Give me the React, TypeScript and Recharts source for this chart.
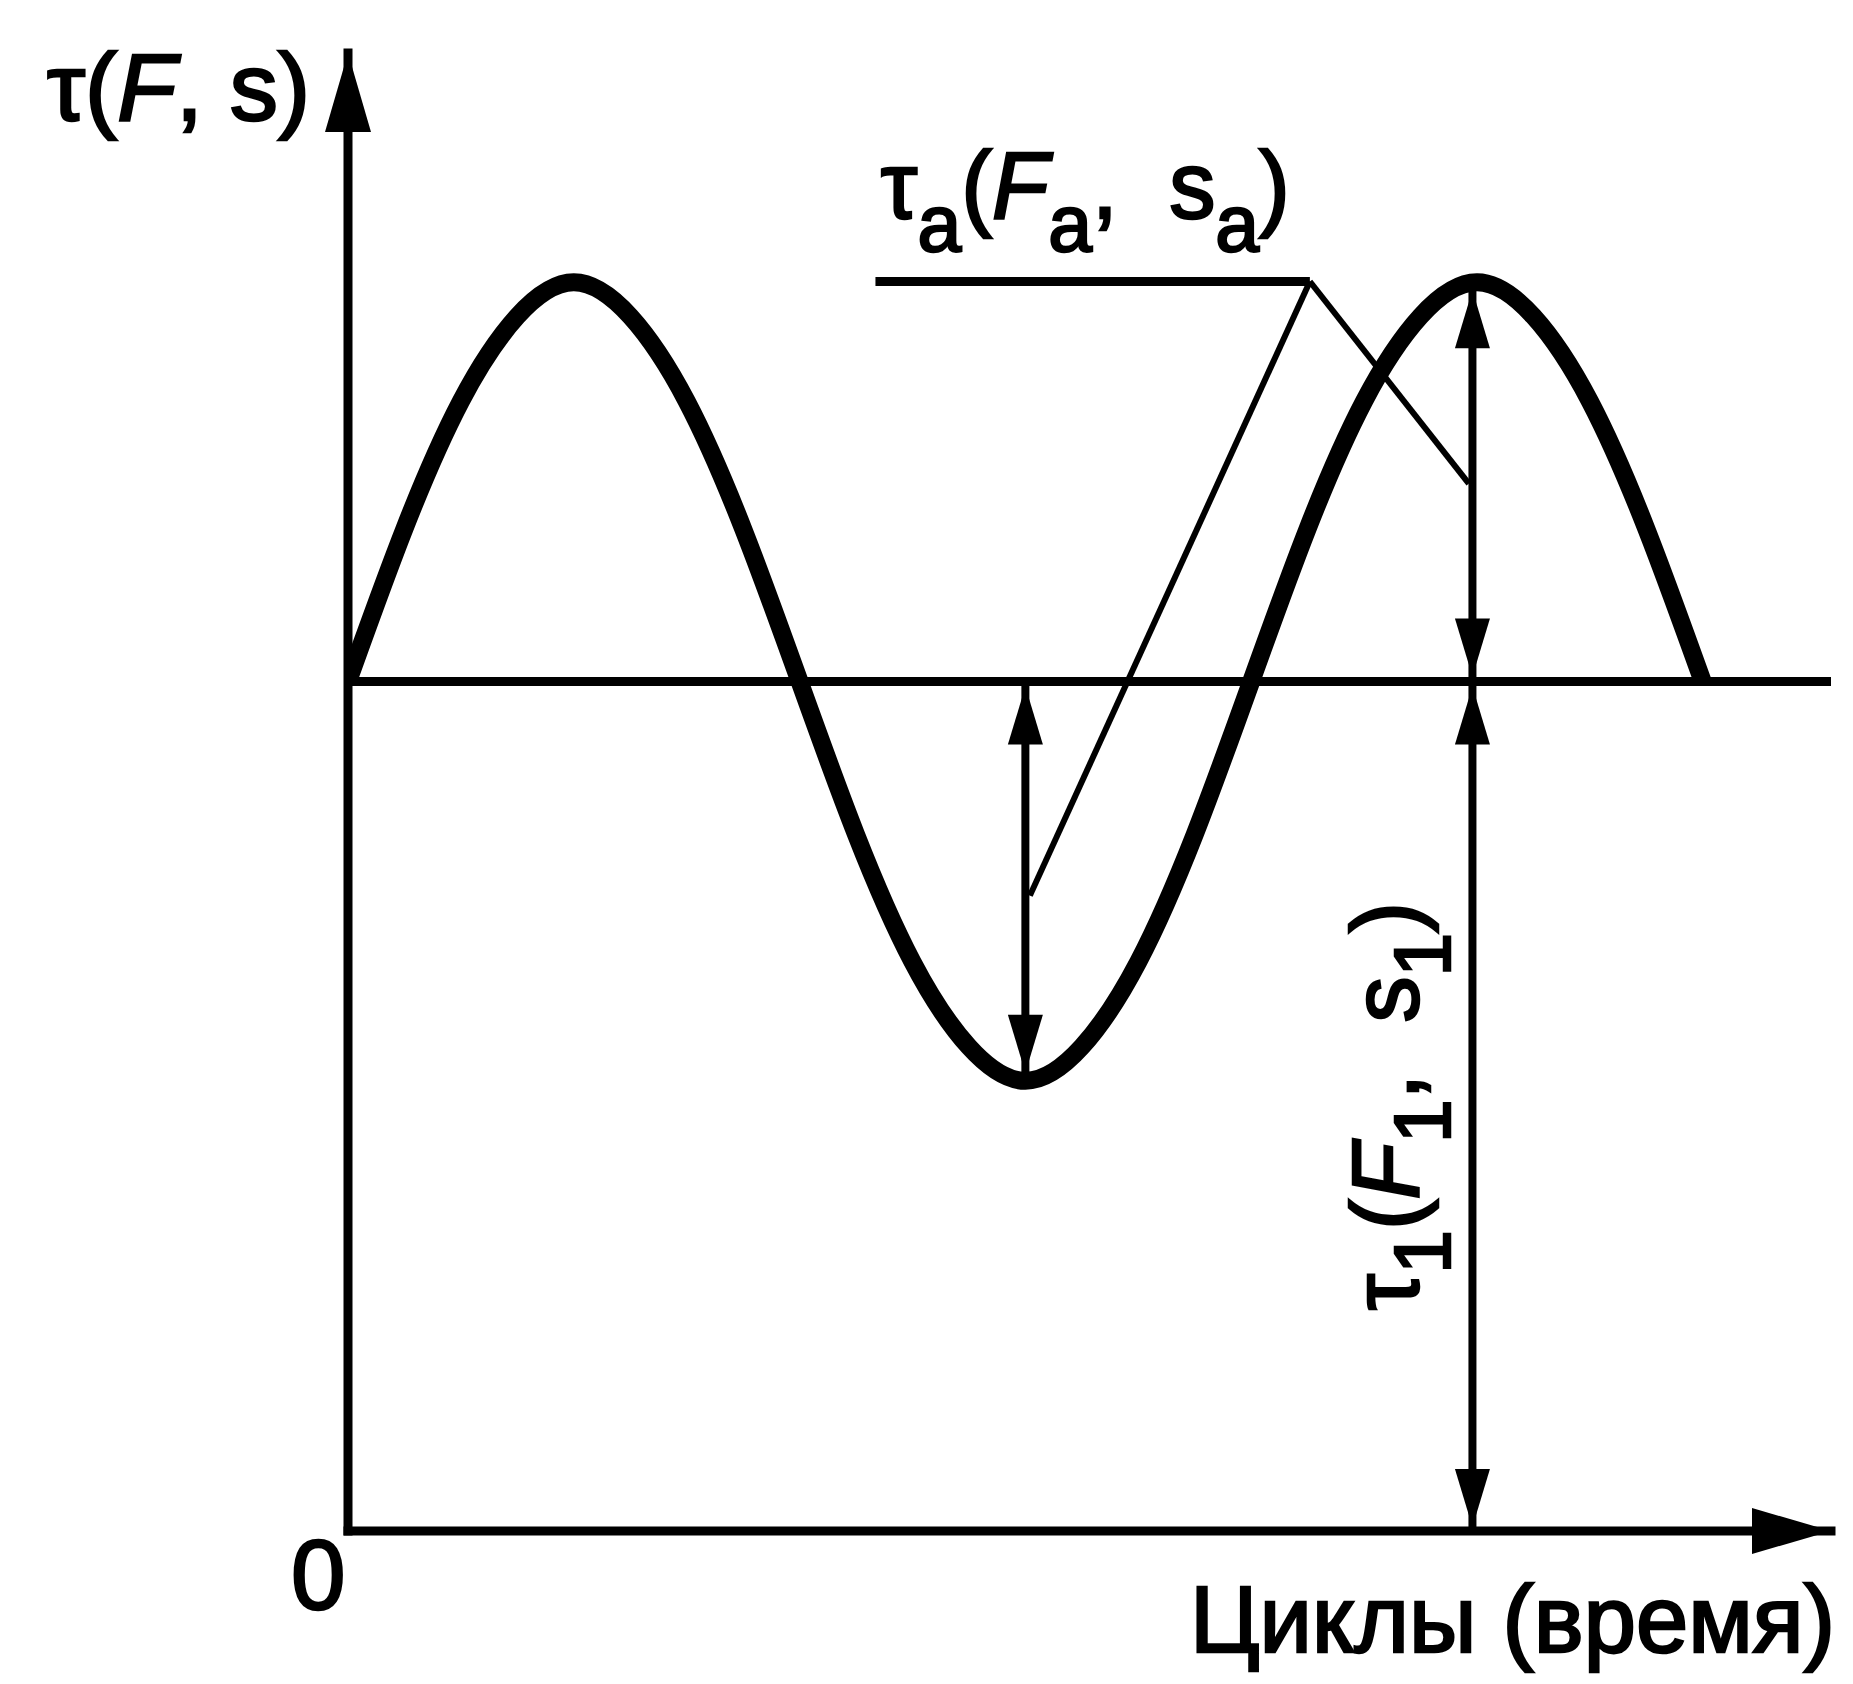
import { ComposedChart, Line, XAxis, YAxis, ReferenceLine, ReferenceDot } from "recharts"

// time in cycles, stress in arbitrary units
const cycles = [
  0, 0.0625, 0.125, 0.1875, 0.25, 0.3125, 0.375, 0.4375, 0.5, 0.5625, 0.625, 0.6875, 0.75,
  0.8125, 0.875, 0.9375, 1, 1.0625, 1.125, 1.1875, 1.25, 1.3125, 1.375, 1.4375, 1.5,
]
const tau = [
  100, 118, 133, 143, 147, 143, 133, 118, 100, 82, 67, 57, 53,
  57, 67, 82, 100, 118, 133, 143, 147, 143, 133, 118, 100,
]

const tauMean = 100
const tauMax = 147
const tauMin = 53
const xMax = 1.642
const yMax = 174

const ampArrowX = 0.75
const meanArrowX = 1.245
const leaderCorner = { x: 1.065, y: 147.1 }
const leaderStart = { x: 0.584, y: 147.1 }
const leaderToLeft = { x: 0.755, y: 74.8 }
const leaderToRight = { x: 1.241, y: 123.3 }

const tauALabelPos = { x: 0.59, y: 154.6 }
const tau1LabelPos = { x: 1.1847, y: 26 }

const xTitle = "Циклы (время)"

const chartData = cycles.map((x, i) => ({ x, tau: tau[i] }))

const FONT = "'Liberation Sans', Arial, Helvetica, sans-serif"
const SUB = 80
const SUB_DY = 33
// the scan's lettering is a bit heavier than a regular weight
const textInk = { fill: "#000", stroke: "#000", strokeWidth: 2.5 }

type Dir = "up" | "down" | "right"

const arrowHead = (dir: Dir, len: number, half: number, offset = 0) => (props: any) => {
  const { cx, cy } = props
  if (cx == null || cy == null) return <g />
  let pts = ""
  if (dir === "up") {
    const ty = cy + offset
    pts = `${cx},${ty} ${cx - half},${ty + len} ${cx + half},${ty + len}`
  } else if (dir === "down") {
    const ty = cy - offset
    pts = `${cx},${ty} ${cx - half},${ty - len} ${cx + half},${ty - len}`
  } else {
    const tx = cx + offset
    pts = `${tx},${cy} ${tx - len},${cy - half} ${tx - len},${cy + half}`
  }
  return <polygon points={pts} fill="#000" />
}

const tauALabel = (props: any) => {
  const { cx, cy } = props
  return (
    <text x={cx} y={cy} fontFamily={FONT} fontSize={94} {...textInk} textLength={409} lengthAdjust="spacingAndGlyphs">
      τ<tspan dy={SUB_DY} fontSize={SUB}>a</tspan>
      <tspan dy={-SUB_DY}>(</tspan>
      <tspan fontStyle="italic">F</tspan>
      <tspan dy={SUB_DY} fontSize={SUB}>a</tspan>
      <tspan dy={-SUB_DY}>{",\u00a0 "}</tspan>
      <tspan>s</tspan>
      <tspan dy={SUB_DY} fontSize={SUB}>a</tspan>
      <tspan dy={-SUB_DY}>)</tspan>
    </text>
  )
}

const tau1Label = (props: any) => {
  const { cx, cy } = props
  return (
    <text
      x={cx}
      y={cy}
      transform={`rotate(-90 ${cx} ${cy})`}
      fontFamily={FONT}
      fontSize={94}
      {...textInk}
      textLength={408}
      lengthAdjust="spacingAndGlyphs"
    >
      τ<tspan dy={SUB_DY - 1} fontSize={SUB}>1</tspan>
      <tspan dy={-(SUB_DY - 1)}>(</tspan>
      <tspan fontStyle="italic">F</tspan>
      <tspan dy={SUB_DY - 1} fontSize={SUB}>1</tspan>
      <tspan dy={-(SUB_DY - 1)}>{",\u00a0 "}</tspan>
      <tspan>s</tspan>
      <tspan dy={SUB_DY - 1} fontSize={SUB}>1</tspan>
      <tspan dy={-(SUB_DY - 1)}>)</tspan>
    </text>
  )
}

const zeroTick = (props: any) => {
  const { x, y, payload } = props
  return (
    <text x={x - 57} y={y + 78} fontFamily={FONT} fontSize={98} {...textInk}>
      {payload.value}
    </text>
  )
}

const xAxisTitle = (props: any) => {
  const vb = props.viewBox
  return (
    <text
      x={vb.x + vb.width - 641}
      y={vb.y + 121}
      fontFamily={FONT}
      fontSize={94}
      {...textInk}
      textLength={645}
      lengthAdjust="spacingAndGlyphs"
    >
      {xTitle}
    </text>
  )
}

const yAxisTitle = (props: any) => {
  const vb = props.viewBox
  return (
    <text
      x={vb.x + 47}
      y={vb.y + 67}
      fontFamily={FONT}
      fontSize={94}
      {...textInk}
      textLength={263}
      lengthAdjust="spacingAndGlyphs"
    >
      τ(<tspan fontStyle="italic">F</tspan>, s)
    </text>
  )
}

export default function App() {
  const small = 58
  const smallHalf = 17.5
  return (
    <div style={{ position: "absolute", left: 0, top: 0, background: "#fff" }}>
      <ComposedChart width={1853} height={1684} data={chartData} margin={{ top: 53, right: 22, bottom: 0, left: 0 }}>
        <XAxis
          type="number"
          dataKey="x"
          domain={[0, xMax]}
          allowDataOverflow
          height={153}
          axisLine={{ stroke: "#000", strokeWidth: 9, strokeLinecap: "square" }}
          tickLine={false}
          tickSize={0}
          tickMargin={0}
          ticks={[0]}
          tick={zeroTick}
          label={{ content: xAxisTitle }}
        />
        <YAxis
          type="number"
          domain={[0, yMax]}
          allowDataOverflow
          width={348}
          axisLine={{ stroke: "#000", strokeWidth: 9, strokeLinecap: "square" }}
          tickLine={false}
          tick={false}
          label={{ content: yAxisTitle }}
        />

        <ReferenceLine y={tauMean} stroke="#000" strokeWidth={9} />

        {/* leader for the amplitude label */}
        <ReferenceLine segment={[leaderStart, leaderCorner]} stroke="#000" strokeWidth={9} />
        <ReferenceLine segment={[leaderCorner, leaderToLeft]} stroke="#000" strokeWidth={6} />
        <ReferenceLine segment={[leaderCorner, leaderToRight]} stroke="#000" strokeWidth={6} />

        {/* dimension arrows */}
        <ReferenceLine segment={[{ x: ampArrowX, y: tauMean }, { x: ampArrowX, y: tauMin }]} stroke="#000" strokeWidth={8} />
        <ReferenceLine segment={[{ x: meanArrowX, y: tauMax }, { x: meanArrowX, y: 0 }]} stroke="#000" strokeWidth={8} />

        <Line
          dataKey="tau"
          type="natural"
          stroke="#000"
          strokeWidth={18}
          dot={false}
          activeDot={false}
          isAnimationActive={false}
        />

        <ReferenceDot x={ampArrowX} y={tauMean} ifOverflow="visible" shape={arrowHead("up", small, smallHalf, 5)} />
        <ReferenceDot x={ampArrowX} y={tauMin} ifOverflow="visible" shape={arrowHead("down", small, smallHalf, 8)} />
        <ReferenceDot x={meanArrowX} y={tauMax} ifOverflow="visible" shape={arrowHead("up", small, smallHalf, 8)} />
        <ReferenceDot x={meanArrowX} y={tauMean} ifOverflow="visible" shape={arrowHead("down", small, smallHalf, 5)} />
        <ReferenceDot x={meanArrowX} y={tauMean} ifOverflow="visible" shape={arrowHead("up", small, smallHalf, 5)} />
        <ReferenceDot x={meanArrowX} y={0} ifOverflow="visible" shape={arrowHead("down", small, smallHalf, 4)} />

        {/* axis arrows */}
        <ReferenceDot x={0} y={yMax} ifOverflow="visible" shape={arrowHead("up", 79, 23, 0)} />
        <ReferenceDot x={xMax} y={0} ifOverflow="visible" shape={arrowHead("right", 79, 23, 0)} />

        <ReferenceDot x={tauALabelPos.x} y={tauALabelPos.y} ifOverflow="visible" shape={tauALabel} />
        <ReferenceDot x={tau1LabelPos.x} y={tau1LabelPos.y} ifOverflow="visible" shape={tau1Label} />
      </ComposedChart>
    </div>
  )
}
